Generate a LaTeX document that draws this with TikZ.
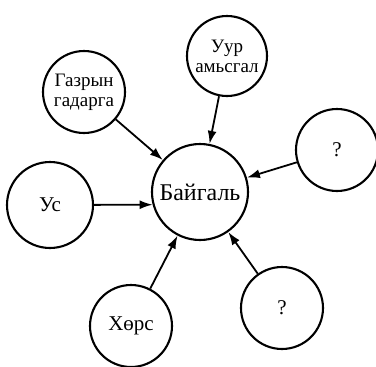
\documentclass[tikz,border=0pt]{standalone}
\usepackage{fontspec}
\setmainfont{Liberation Serif}
\usetikzlibrary{arrows.meta}

\begin{document}
\begin{tikzpicture}[x=1pt,y=-1pt]
            \useasboundingbox (0,0) rectangle (376,367);
            \tikzset{krug/.style={draw,circle,line width=2.1pt,minimum size=82pt,inner sep=0pt,
                         align=center,font=\fontsize{21}{24}\selectfont},
                     dvoe/.style={font=\fontsize{19}{20}\selectfont},
                     strelka/.style={line width=1.8pt,-{Latex[length=13pt,width=9pt]}}}

            % center
            \node[krug,minimum size=96pt,font=\fontsize{24}{26}\selectfont] (baigal) at (200,192) {Байгаль};

            % around
            \node[krug,dvoe] (gazar) at (84,92) {Газрын\\гадарга};
            \node[krug,dvoe,minimum size=80pt] (agaar) at (227,56) {Уур\\амьсгал};
            \node[krug] (asuult1) at (337,150) {?};
            \node[krug,minimum size=86pt] (us) at (50,205) {Ус};
            \node[krug] (hors) at (131,326) {Хөрс};
            \node[krug] (asuult2) at (282,308) {?};

             %arrows
                 \foreach \a in {gazar,agaar,asuult1,hors,asuult2}
                     \draw[strelka] (\a) -- (baigal);
                 \draw[strelka] (us) -- (baigal.195);
\end{tikzpicture}
\end{document}
